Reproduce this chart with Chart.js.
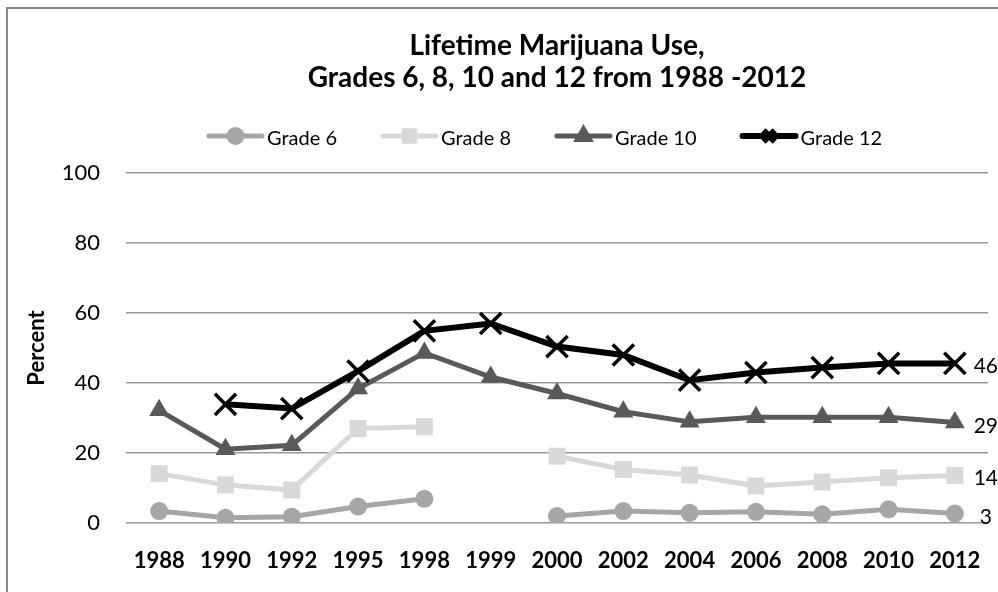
<!DOCTYPE html>
<html>
<head>
<meta charset="utf-8">
<title>Lifetime Marijuana Use</title>
<script src="https://cdn.jsdelivr.net/npm/chart.js@4.4.1/dist/chart.umd.min.js"></script>
<style>
  html, body { margin: 0; padding: 0; background: #fff; overflow: hidden; }
  #wrap { position: relative; width: 998px; height: 592px; }
  #frame { position: absolute; left: 6px; top: 7px; width: 1100px; height: 700px; border: 2px solid #8a8a8a; box-sizing: border-box; }
  #chart { position: absolute; left: 0; top: 0; }
</style>
</head>
<body>
<div id="wrap">
  <div id="frame"></div>
  <canvas id="chart" width="998" height="592"></canvas>
</div>
<script>
  const years = ['1988', '1990', '1992', '1995', '1998', '1999', '2000', '2002', '2004', '2006', '2008', '2010', '2012'];
  const grade6 = [3.4, 1.5, 1.8, 4.7, 6.9, null, 2.0, 3.4, 2.9, 3.2, 2.5, 3.9, 2.7];
  const grade8 = [14.1, 10.9, 9.4, 27.0, 27.5, null, 19.1, 15.3, 13.7, 10.6, 11.7, 12.9, 13.6];
  const grade10 = [32.2, 21.1, 22.2, 38.4, 48.6, 41.7, 37.0, 31.8, 28.9, 30.2, 30.2, 30.2, 28.7];
  const grade12 = [null, 33.9, 32.7, 43.4, 54.9, 57.0, 50.4, 48.0, 40.8, 43.0, 44.4, 45.6, 45.6];
  const titleLines = ['Lifetime Marijuana Use,', 'Grades 6, 8, 10 and 12 from 1988 -2012'];
  const yTicks = [0, 20, 40, 60, 80, 100];

  const FONT = 'Lato';

  // title + legend drawn above the plot area
  const headerPlugin = {
    id: 'header',
    afterDraw(chart) {
      const ctx = chart.ctx;
      const area = chart.chartArea;
      const cx = (area.left + area.right) / 2;
      ctx.save();
      ctx.fillStyle = '#000';
      ctx.textAlign = 'center';
      ctx.textBaseline = 'alphabetic';
      ctx.font = 'bold 28px ' + FONT;
      ctx.fillText(titleLines[0], cx, 55);
      ctx.fillText(titleLines[1], cx, 87);

      ctx.font = '20px ' + FONT;
      ctx.textAlign = 'left';
      let x = 207;
      const y = 136;
      chart.data.datasets.forEach(ds => {
        ctx.strokeStyle = ds.borderColor;
        ctx.fillStyle = ds.borderColor;
        ctx.lineWidth = ds.borderWidth;
        ctx.lineCap = 'round';
        ctx.beginPath();
        ctx.moveTo(x + 2, y);
        ctx.lineTo(x + 55, y);
        ctx.stroke();
        ctx.lineCap = 'butt';
        if (Chart.helpers && Chart.helpers.drawPoint) {
          Chart.helpers.drawPoint(ctx, {
            pointStyle: ds.pointStyle,
            radius: ds.legendRadius,
            borderWidth: ds.pointStyle === 'crossRot' ? 3 : 1,
            rotation: 0
          }, x + 28.5, y);
        }
        ctx.fillStyle = '#000';
        ctx.fillText(ds.label, x + 60, y + 8.5);
        x += 60 + ctx.measureText(ds.label).width + 44;
      });
      ctx.restore();
    }
  };

  // value labels to the right of the last point
  const endLabelPlugin = {
    id: 'endLabels',
    afterDatasetsDraw(chart) {
      const ctx = chart.ctx;
      ctx.save();
      ctx.font = '21px ' + FONT;
      ctx.fillStyle = '#000';
      ctx.textAlign = 'center';
      ctx.textBaseline = 'alphabetic';
      chart.data.datasets.forEach((ds, i) => {
        const meta = chart.getDatasetMeta(i);
        const last = ds.data.length - 1;
        const pt = meta.data[last];
        if (!pt || ds.data[last] == null) return;
        ctx.fillText(String(Math.round(ds.data[last])), pt.x + 31, pt.y + 10);
      });
      ctx.restore();
    }
  };

  function draw() {
    new Chart(document.getElementById('chart'), {
      type: 'line',
      data: {
        labels: years,
        datasets: [
          {
            label: 'Grade 6', data: grade6, order: 3,
            borderColor: '#a6a6a6', backgroundColor: '#a6a6a6', borderWidth: 5,
            pointStyle: 'circle', pointRadius: 9, pointBorderWidth: 0,
            pointBackgroundColor: '#a6a6a6', pointBorderColor: '#a6a6a6', legendRadius: 6.5
          },
          {
            label: 'Grade 8', data: grade8, order: 2,
            borderColor: '#d9d9d9', backgroundColor: '#d9d9d9', borderWidth: 5,
            pointStyle: 'rect', pointRadius: 12, pointBorderWidth: 0,
            pointBackgroundColor: '#d9d9d9', pointBorderColor: '#d9d9d9', legendRadius: 7.5
          },
          {
            label: 'Grade 10', data: grade10, order: 1,
            borderColor: '#595959', backgroundColor: '#595959', borderWidth: 5,
            pointStyle: 'triangle', pointRadius: 11.5, pointBorderWidth: 0,
            pointBackgroundColor: '#595959', pointBorderColor: '#595959', legendRadius: 7
          },
          {
            label: 'Grade 12', data: grade12, order: 0,
            borderColor: '#000000', backgroundColor: '#000000', borderWidth: 6,
            pointStyle: 'crossRot', pointRadius: 15, pointBorderWidth: 3.5,
            pointBackgroundColor: '#000000', pointBorderColor: '#000000', legendRadius: 8
          }
        ]
      },
      options: {
        responsive: false,
        animation: false,
        devicePixelRatio: 1,
        spanGaps: false,
        layout: { autoPadding: false, padding: { top: 173, right: 10, bottom: 0, left: 0 } },
        elements: { line: { tension: 0 } },
        plugins: {
          legend: { display: false },
          title: { display: false },
          tooltip: { enabled: false }
        },
        scales: {
          x: {
            offset: true,
            grid: { display: false },
            border: { display: false },
            ticks: { color: '#000', font: { family: FONT, size: 22, weight: 'bold' }, padding: 17, maxRotation: 0, autoSkip: false },
            afterFit: s => { s.height = 69; s.paddingLeft = 0; s.paddingRight = 0; }
          },
          y: {
            min: 0,
            max: 100,
            afterBuildTicks: s => { s.ticks = yTicks.map(v => ({ value: v })); },
            grid: { color: '#989898', lineWidth: 1.5, drawTicks: false },
            border: { display: false },
            ticks: { color: '#000', font: { family: FONT, size: 22 }, padding: 26 },
            title: { display: true, text: 'Percent', color: '#000', font: { family: FONT, size: 22, weight: 'bold' }, padding: { top: 24, bottom: 0 } },
            afterFit: s => { s.width = 126; }
          }
        }
      },
      plugins: [headerPlugin, endLabelPlugin]
    });
  }

  if (document.fonts && document.fonts.load) {
    Promise.all([document.fonts.load('22px Lato'), document.fonts.load('bold 22px Lato')]).then(draw, draw);
  } else {
    draw();
  }
</script>
</body>
</html>
